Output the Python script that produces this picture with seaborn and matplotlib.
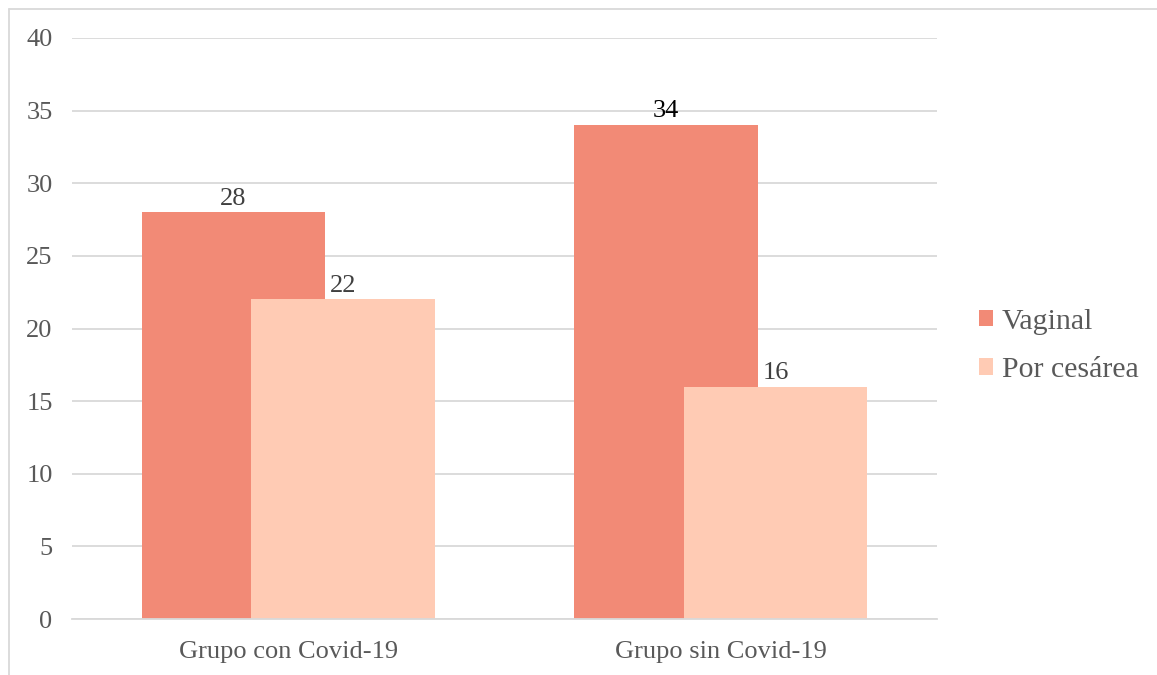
import matplotlib
matplotlib.use("Agg")
import matplotlib.pyplot as plt
from matplotlib.lines import Line2D
from matplotlib.patches import Patch
import seaborn as sns
import pandas as pd

# Data
grupos = ["Grupo con Covid-19", "Grupo sin Covid-19"]
tipos = ["Vaginal", "Por cesárea"]
vaginal = [28, 34]
cesarea = [22, 16]
y_ticks = [0, 5, 10, 15, 20, 25, 30, 35, 40]

colores = {"Vaginal": "#F28A76", "Por cesárea": "#FFCBB4"}

df = pd.DataFrame({
    "grupo": grupos * 2,
    "tipo": [tipos[0]] * 2 + [tipos[1]] * 2,
    "n": vaginal + cesarea,
})

sns.set_theme(style="white")
plt.rcParams["font.family"] = ["Liberation Serif", "DejaVu Serif"]

fig = plt.figure(figsize=(11.57, 6.75), dpi=100)
ax = fig.add_axes([72 / 1157, 1 - 619 / 675, 865 / 1157, (619 - 38) / 675])

sns.barplot(data=df, x="grupo", y="n", hue="tipo", order=grupos,
            hue_order=tipos, palette=colores, ax=ax, legend=False,
            saturation=1, linewidth=0, errorbar=None)

# Overlapping bars: each bar 0.424 wide, centres at ±0.127 from the category
bar_w = 0.424
off = 0.127
for p in ax.patches:
    c = p.get_x() + p.get_width() / 2
    cat = round(c)
    sign = -1 if c < cat else 1
    nc = cat + sign * off
    p.set_width(bar_w)
    p.set_x(nc - bar_w / 2)

# Value labels
for p in ax.patches:
    h = p.get_height()
    col = "#000000" if h == 34 else "#404040"
    ax.annotate(f"{int(h)}", (p.get_x() + p.get_width() / 2, h),
                xytext=(0, 2), textcoords="offset points",
                ha="center", va="bottom", fontsize=19, color=col)

ax.set_xlim(-0.5, 1.5)
ax.set_ylim(0, 40)
ax.set_yticks(y_ticks)
ax.set_yticklabels([str(t) for t in y_ticks])
ax.yaxis.grid(True, color="#D9D9D9", linewidth=1.3)
ax.set_axisbelow(True)
for s in ["top", "right", "left"]:
    ax.spines[s].set_visible(False)
ax.spines["bottom"].set_color("#D9D9D9")
ax.spines["bottom"].set_linewidth(1.3)
ax.tick_params(axis="y", length=0, pad=14, labelsize=19, labelcolor="#595959")
ax.tick_params(axis="x", length=0, pad=16, labelsize=19, labelcolor="#595959")
ax.set_xlabel("")
ax.set_ylabel("")

# Legend
handles = [Patch(facecolor=colores[t], edgecolor="none") for t in tipos]
fig.legend(handles, tipos, loc="center left",
           bbox_to_anchor=(979 / 1157, 1 - 346 / 675), frameon=False,
           borderaxespad=0, borderpad=0,
           fontsize=21.5, labelcolor="#595959", handlelength=0.47,
           handleheight=0.47, handletextpad=0.3, labelspacing=0.75)

# Outer chart frame (left and top edges)
fig.add_artist(Line2D([9 / 1157, 9 / 1157], [0, 1 - 9 / 675],
                      transform=fig.transFigure, color="#D9D9D9", lw=1.3))
fig.add_artist(Line2D([9 / 1157, 1], [1 - 9 / 675, 1 - 9 / 675],
                      transform=fig.transFigure, color="#D9D9D9", lw=1.3))

fig.savefig("out.png", dpi=100, facecolor="white")
